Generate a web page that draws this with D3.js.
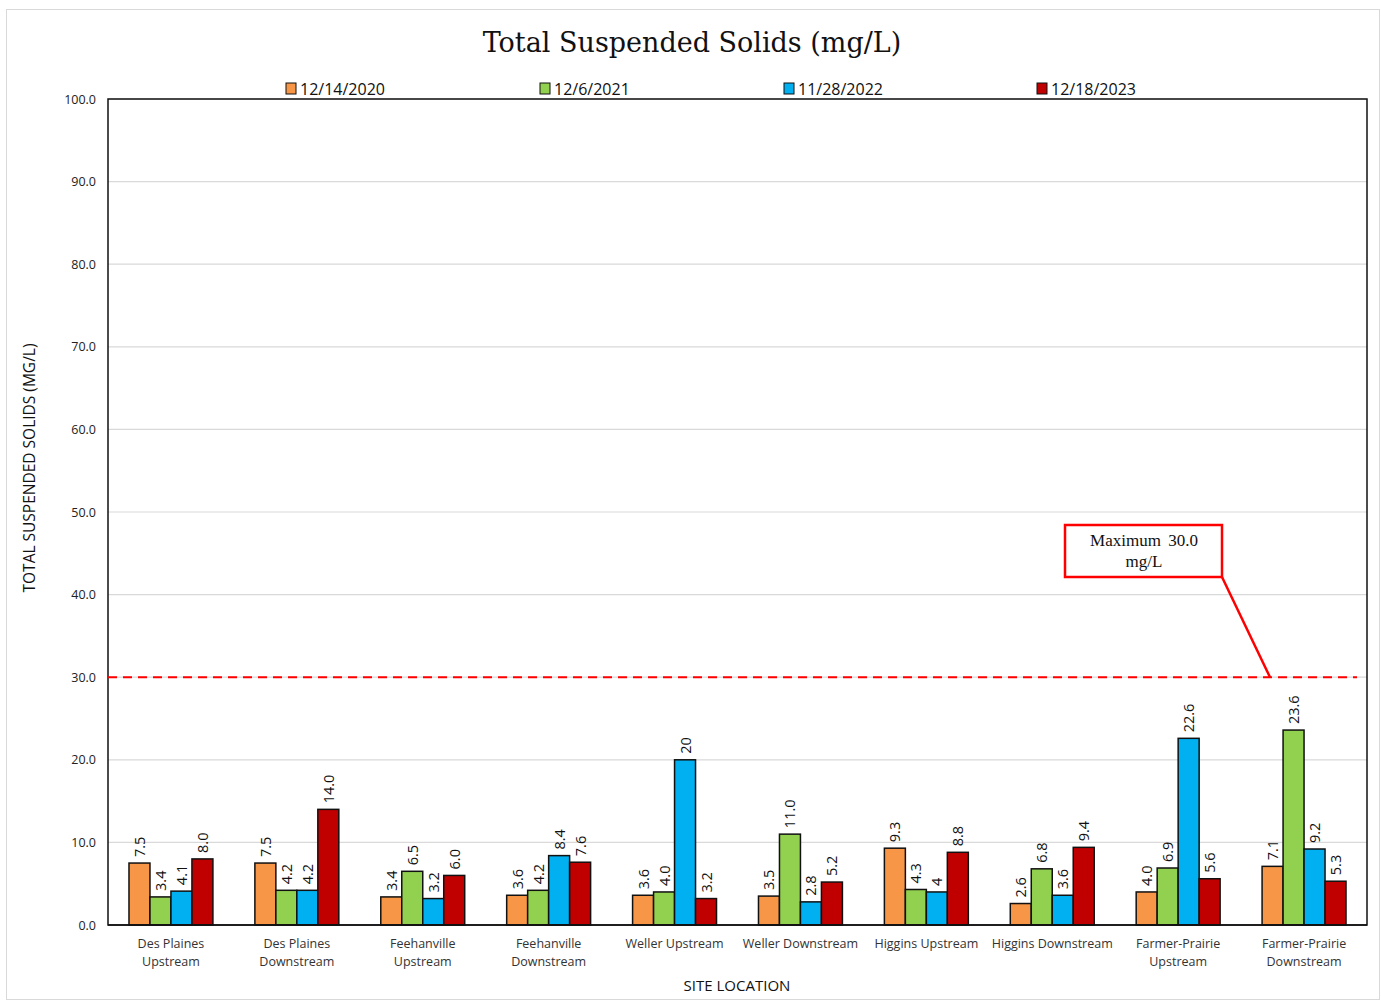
<!DOCTYPE html>
<html>
<head>
<meta charset="utf-8">
<script src="https://cdn.jsdelivr.net/npm/d3@7"></script>
<style>
  body { margin: 0; background: #fff; }
</style>
</head>
<body>
<script>
// chart data
var sites = [
  ["Des Plaines", "Upstream"],
  ["Des Plaines", "Downstream"],
  ["Feehanville", "Upstream"],
  ["Feehanville", "Downstream"],
  ["Weller Upstream"],
  ["Weller Downstream"],
  ["Higgins Upstream"],
  ["Higgins Downstream"],
  ["Farmer-Prairie", "Upstream"],
  ["Farmer-Prairie", "Downstream"]
];
var dates = ["12/14/2020", "12/6/2021", "11/28/2022", "12/18/2023"];
var colors = ["#f79646", "#92d050", "#00b0f0", "#c00000"];
var v2020 = [7.5, 7.5, 3.4, 3.6, 3.6, 3.5, 9.3, 2.6, 4.0, 7.1];
var v2021 = [3.4, 4.2, 6.5, 4.2, 4.0, 11.0, 4.3, 6.8, 6.9, 23.6];
var v2022 = [4.1, 4.2, 3.2, 8.4, 20, 2.8, 4, 3.6, 22.6, 9.2];
var v2023 = [8.0, 14.0, 6.0, 7.6, 3.2, 5.2, 8.8, 9.4, 5.6, 5.3];
var l2020 = ["7.5", "7.5", "3.4", "3.6", "3.6", "3.5", "9.3", "2.6", "4.0", "7.1"];
var l2021 = ["3.4", "4.2", "6.5", "4.2", "4.0", "11.0", "4.3", "6.8", "6.9", "23.6"];
var l2022 = ["4.1", "4.2", "3.2", "8.4", "20", "2.8", "4", "3.6", "22.6", "9.2"];
var l2023 = ["8.0", "14.0", "6.0", "7.6", "3.2", "5.2", "8.8", "9.4", "5.6", "5.3"];
var yTicks = [0, 10, 20, 30, 40, 50, 60, 70, 80, 90, 100];
var maxLimit = 30;

var series = [v2020, v2021, v2022, v2023];
var labels = [l2020, l2021, l2022, l2023];

var W = 1381, H = 1003;
var margin = {top: 99, right: 14, bottom: 78, left: 108},
    width = 1367 - margin.left,
    height = 925 - margin.top;

var svg = d3.select("body").append("svg")
    .attr("width", W)
    .attr("height", H);

// outer frame
svg.append("rect")
    .attr("x", 6.5).attr("y", 9.5)
    .attr("width", 1373).attr("height", 990)
    .attr("fill", "#fff")
    .attr("stroke", "#d9d9d9");

var g = svg.append("g")
    .attr("transform", "translate(" + margin.left + "," + margin.top + ")");

var x = d3.scaleBand()
    .domain(d3.range(sites.length))
    .range([0, width])
    .paddingInner(1 / 3)
    .paddingOuter(1 / 6);
var xs = d3.scaleBand()
    .domain(d3.range(dates.length))
    .range([0, x.bandwidth()]);
var y = d3.scaleLinear()
    .domain([0, 100])
    .range([height, 0]);

// gridlines
g.selectAll(".grid")
    .data(yTicks.slice(1))
  .enter().append("line")
    .attr("x1", 0).attr("x2", width)
    .attr("y1", function(d) { return y(d); })
    .attr("y2", function(d) { return y(d); })
    .attr("stroke", "#d9d9d9")
    .attr("stroke-width", 1.2);

// y axis labels
g.append("g")
    .call(d3.axisLeft(y).tickValues(yTicks).tickFormat(d3.format(".1f")).tickSize(0).tickPadding(12))
    .call(function(a) { a.select(".domain").remove(); })
    .selectAll("text")
    .style("font-family", "'Open Sans', sans-serif")
    .style("font-size", "12.5px")
    .attr("fill", "#222");

// bars
var groups = g.selectAll(".site")
    .data(sites)
  .enter().append("g")
    .attr("transform", function(d, i) { return "translate(" + x(i) + ",0)"; });

series.forEach(function(vals, s) {
  groups.append("rect")
    .attr("x", function(d, i) { return xs(s); })
    .attr("y", function(d, i) { return y(vals[i]); })
    .attr("width", xs.bandwidth())
    .attr("height", function(d, i) { return height - y(vals[i]); })
    .attr("fill", colors[s])
    .attr("stroke", "#111")
    .attr("stroke-width", 1.5);

  groups.append("text")
    .attr("transform", function(d, i) {
      return "translate(" + (xs(s) + xs.bandwidth() / 2 + 5.5) + "," + (y(vals[i]) - 6) + ") rotate(-90)";
    })
    .style("font-family", "'Open Sans', sans-serif")
    .style("font-size", "14.5px")
    .attr("fill", "#111")
    .text(function(d, i) { return labels[s][i]; });
});

// x axis line
g.append("line")
    .attr("x1", 0).attr("x2", width)
    .attr("y1", height).attr("y2", height)
    .attr("stroke", "#111").attr("stroke-width", 1.5);

// plot border
g.append("rect")
    .attr("width", width).attr("height", height)
    .attr("fill", "none")
    .attr("stroke", "#111")
    .attr("stroke-width", 1.5);

// category labels
groups.append("text")
    .attr("x", x.bandwidth() / 2)
    .attr("y", height + 23)
    .attr("text-anchor", "middle")
    .style("font-family", "'Open Sans', sans-serif")
    .style("font-size", "12.5px")
    .attr("fill", "#333")
    .each(function(d) {
      var t = d3.select(this);
      d.forEach(function(line, k) {
        t.append("tspan").attr("x", x.bandwidth() / 2).attr("dy", k ? 18 : 0).text(line);
      });
    });

// maximum limit line
g.append("line")
    .attr("x1", 0).attr("x2", width - 10)
    .attr("y1", y(maxLimit)).attr("y2", y(maxLimit))
    .attr("stroke", "#ff0000")
    .attr("stroke-width", 2)
    .attr("stroke-dasharray", "9,6");

// annotation callout
var bx = 1065 - margin.left, by = 525 - margin.top;
g.append("line")
    .attr("x1", bx + 157).attr("y1", by + 52)
    .attr("x2", 1270 - margin.left).attr("y2", y(maxLimit))
    .attr("stroke", "#ff0000").attr("stroke-width", 2.5);
g.append("rect")
    .attr("x", bx).attr("y", by)
    .attr("width", 157).attr("height", 52)
    .attr("fill", "#fff")
    .attr("stroke", "#ff0000").attr("stroke-width", 2.5);
g.append("text")
    .attr("x", bx + 79).attr("y", by + 21)
    .attr("text-anchor", "middle")
    .style("font-family", "'Liberation Serif', serif")
    .style("font-size", "17px")
    .style("word-spacing", "3px")
    .attr("fill", "#111")
    .text("Maximum 30.0");
g.append("text")
    .attr("x", bx + 79).attr("y", by + 42)
    .attr("text-anchor", "middle")
    .style("font-family", "'Liberation Serif', serif")
    .style("font-size", "17px")
    .attr("fill", "#111")
    .text("mg/L");

// title
svg.append("text")
    .attr("x", 692).attr("y", 52)
    .attr("text-anchor", "middle")
    .style("font-family", "'DejaVu Serif', serif")
    .style("font-size", "27px")
    .attr("fill", "#111")
    .text("Total Suspended Solids (mg/L)");

// legend
var legendX = [286, 540, 784, 1037];
var leg = svg.selectAll(".legend")
    .data(dates)
  .enter().append("g")
    .attr("transform", function(d, i) { return "translate(" + legendX[i] + ",83)"; });
leg.append("rect")
    .attr("width", 10).attr("height", 11)
    .attr("fill", function(d, i) { return colors[i]; })
    .attr("stroke", "#111").attr("stroke-width", 1);
leg.append("text")
    .attr("x", 14).attr("y", 11.5)
    .style("font-family", "'Open Sans', sans-serif")
    .style("font-size", "16px")
    .attr("fill", "#111")
    .text(function(d) { return d; });

// axis titles
svg.append("text")
    .attr("transform", "translate(35,468) rotate(-90)")
    .attr("text-anchor", "middle")
    .style("font-family", "'Open Sans', sans-serif")
    .style("font-size", "15.5px")
    .attr("fill", "#111")
    .text("TOTAL SUSPENDED SOLIDS (MG/L)");
svg.append("text")
    .attr("x", 737).attr("y", 991)
    .attr("text-anchor", "middle")
    .style("font-family", "'Open Sans', sans-serif")
    .style("font-size", "15px")
    .attr("fill", "#111")
    .text("SITE LOCATION");
</script>
</body>
</html>
